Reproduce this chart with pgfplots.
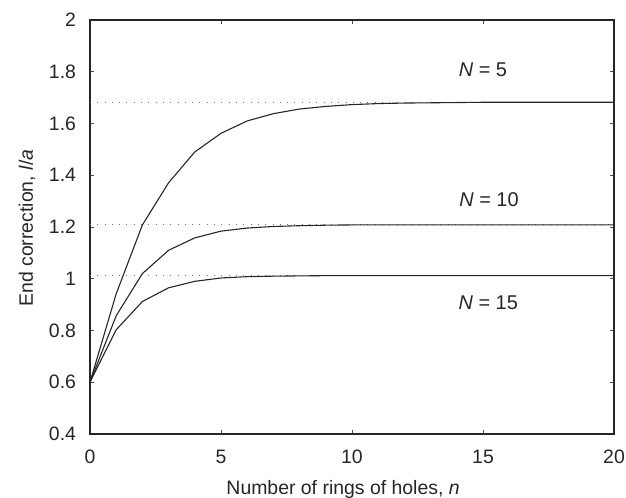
\documentclass[border=0pt]{standalone}
\usepackage{pgfplots}
\pgfplotsset{compat=1.18}
\usepackage{fontspec}
\setmainfont{Liberation Sans}

\begin{document}
\begin{tikzpicture}
\begin{axis}[
    scale only axis,
    width=524bp, height=414bp,
    xmin=0, xmax=20, ymin=0.4, ymax=2,
    xtick={0,5,10,15,20},
    ytick={0.4,0.6,0.8,1,1.2,1.4,1.6,1.8,2},
    tick align=inside,
    major tick length=4bp,
    axis line style={line width=1.3bp, black!85},
    tick style={line width=0.8bp, black!70},
    ticklabel style={font=\fontsize{19.5}{21}\selectfont, text=black!85},
    /pgf/number format/assume math mode=true,
    xticklabel style={yshift=-12.5bp},
    yticklabel style={xshift=-10.5bp},
    xlabel={Number of rings of holes, \textit{n}},
    ylabel={End correction, \textit{l}/\textit{a}},
    label style={font=\fontsize{19.5}{21}\selectfont, text=black!85},
    xlabel style={at={(axis description cs:0.483,-0.1473)}, anchor=base},
    ylabel style={at={(axis description cs:-0.1202,0.4976)}, anchor=center},
    clip=true,
]
% asymptotes
\addplot[black!55, line width=0.9bp, dash pattern=on 0.9bp off 6.4bp] coordinates {(0,1.682) (20,1.682)};
\addplot[black!55, line width=0.9bp, dash pattern=on 0.9bp off 6.4bp] coordinates {(0,1.208) (20,1.208)};
\addplot[black!55, line width=0.9bp, dash pattern=on 0.9bp off 6.4bp] coordinates {(0,1.012) (20,1.012)};

% N = 5
\addplot[black!85, line width=1.1bp] coordinates {
    (0,0.6) (1,0.942) (2,1.208) (3,1.371) (4,1.49) (5,1.562) (6,1.61) (7,1.638)
    (8,1.656) (9,1.666) (10,1.673) (11,1.677) (12,1.679) (13,1.680) (14,1.681)
    (15,1.682) (16,1.682) (17,1.682) (18,1.682) (19,1.682) (20,1.682)
};
% N = 10
\addplot[black!85, line width=1.1bp] coordinates {
    (0,0.6) (1,0.857) (2,1.02) (3,1.11) (4,1.158) (5,1.184) (6,1.196) (7,1.202)
    (8,1.205) (9,1.207) (10,1.208) (12,1.208) (14,1.208) (16,1.208) (18,1.208) (20,1.208)
};
% N = 15
\addplot[black!85, line width=1.1bp] coordinates {
    (0,0.6) (1,0.803) (2,0.912) (3,0.965) (4,0.99) (5,1.003) (6,1.008) (7,1.010)
    (8,1.011) (9,1.012) (10,1.012) (12,1.012) (14,1.012) (16,1.012) (18,1.012) (20,1.012)
};

\node[font=\fontsize{20}{22}\selectfont, text=black!85] at (axis cs:15.0,1.809) {\textit{N} = 5};
\node[font=\fontsize{20}{22}\selectfont, text=black!85] at (axis cs:15.23,1.306) {\textit{N} = 10};
\node[font=\fontsize{20}{22}\selectfont, text=black!85] at (axis cs:15.2,0.908) {\textit{N} = 15};

\coordinate (bl) at (rel axis cs:0,0);
\coordinate (tr) at (rel axis cs:1,1);
\end{axis}
\pgfresetboundingbox
\path ([shift={(-90bp,-64bp)}]bl) rectangle ([shift={(12bp,20bp)}]tr);
\end{tikzpicture}
\end{document}
